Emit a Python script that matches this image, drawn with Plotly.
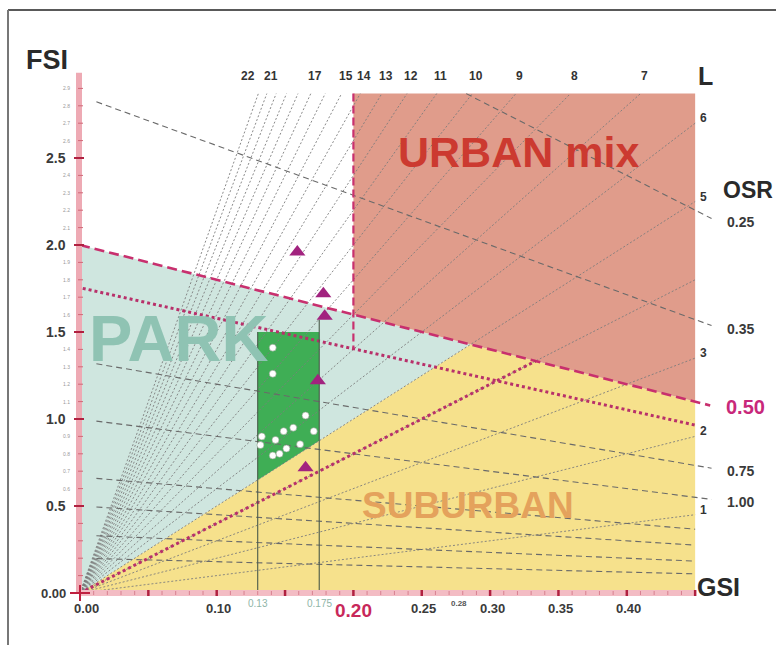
import plotly.graph_objects as go

# ---------------- data ----------------
FSI_TOP = 2.87          # upper edge of the diagram field
GSI_MAX = 0.45          # right edge of the diagram field
GSI_LINE_END = 0.462    # OSR lines run slightly past the field to their labels

L_VALUES = list(range(1, 23))                       # floor-count rays FSI = L * GSI
L_TOP_LABELS = [22, 21, 17, 15, 14, 13, 12, 11, 10, 9, 8, 7]
L_RIGHT_LABELS = [6, 5, 3, 2, 1]

OSR_LABELED = [0.25, 0.35, 0.75, 1.00]              # open space ratio curves
OSR_EXTRA = [1.5, 2.0, 3.0, 5.0]
OSR_LIMIT = 0.50                                    # magenta dashed limit
OSR_DOTTED = 0.57                                   # magenta dotted curve
L_DOTTED = 4                                        # magenta dotted ray
L_PARK = 5                                          # park / suburban boundary ray
URBAN_GSI = 0.20                                    # left edge of urban mix

STUDY_GSI = [0.13, 0.175]                           # study band
STUDY_GSI_LABELS = ["0.13", "0.175"]
STUDY_FSI_TOP = 1.5
STUDY_LINE_TOP = [1.5, 1.57]

GSI_TICKS = [0.00, 0.10, 0.25, 0.30, 0.35, 0.40]
GSI_TICK_LABELS = ["0.00", "0.10", "0.25", "0.30", "0.35", "0.40"]
GSI_RED_TICK = 0.20
GSI_SMALL_TICK = 0.277
FSI_TICKS = [0.5, 1.0, 1.5, 2.0, 2.5]
FSI_TICK_LABELS = ["0.5", "1.0", "1.5", "2.0", "2.5"]
FSI_MINOR = [0.6, 0.7, 0.8, 0.9, 1.1, 1.2, 1.3, 1.4, 1.6, 1.7, 1.8, 1.9,
             2.1, 2.2, 2.3, 2.4, 2.6, 2.7, 2.8, 2.9]

tri_gsi = [0.159, 0.178, 0.179, 0.174, 0.165]
tri_fsi = [1.96, 1.72, 1.59, 1.22, 0.72]

dot_gsi = [0.141, 0.141, 0.165, 0.149, 0.156, 0.171, 0.143, 0.161, 0.151,
           0.141, 0.146, 0.132, 0.133]
dot_fsi = [1.41, 1.26, 1.02, 0.93, 0.95, 0.93, 0.88, 0.855, 0.83,
           0.79, 0.80, 0.85, 0.90]

# ---------------- scale (pixels per unit) ----------------
W, H = 776, 645
X0, Y0 = 80, 593          # pixel position of the origin
SX, SY = 1367.0, 174.0    # pixels per unit GSI / FSI


def px_x(p):
    return p / SX


def px_y(p):
    return p / SY


def osr_fsi(osr, g):
    return (1 - g) / osr


def ray_osr_gsi(L, osr):
    return 1.0 / (1.0 + L * osr)


FONT = "Liberation Sans, Arial, sans-serif"
TEAL = "#cfe6df"
YELLOW = "#f6e18c"
SALMON = "#e09c8b"
GREEN = "#3fae55"
MAGENTA = "#c8306e"
GRAY = "#7d7d7d"

fig = go.Figure()


def poly(xs, ys, color):
    fig.add_trace(go.Scatter(x=xs, y=ys, fill="toself", fillcolor=color,
                             mode="lines", line=dict(width=0),
                             hoverinfo="skip", showlegend=False))


# ---------------- zones ----------------
g_park = ray_osr_gsi(L_PARK, OSR_LIMIT)
f_park = L_PARK * g_park
poly([0, 0, g_park, 0], [0, osr_fsi(OSR_LIMIT, 0), f_park, 0], TEAL)
poly([0, g_park, GSI_MAX, GSI_MAX, 0],
     [0, f_park, osr_fsi(OSR_LIMIT, GSI_MAX), 0, 0], YELLOW)
poly([URBAN_GSI, URBAN_GSI, GSI_MAX, GSI_MAX, URBAN_GSI],
     [osr_fsi(OSR_LIMIT, URBAN_GSI), FSI_TOP, FSI_TOP,
      osr_fsi(OSR_LIMIT, GSI_MAX), osr_fsi(OSR_LIMIT, URBAN_GSI)], SALMON)
ga, gb = STUDY_GSI
poly([ga, ga, gb, gb, ga],
     [L_PARK * ga, STUDY_FSI_TOP, STUDY_FSI_TOP, L_PARK * gb, L_PARK * ga], GREEN)

# ---------------- L rays ----------------
lx, ly = [], []
for L in L_VALUES:
    if L * GSI_MAX <= FSI_TOP:
        lx += [0, GSI_MAX, None]
        ly += [0, L * GSI_MAX, None]
    else:
        lx += [0, FSI_TOP / L, None]
        ly += [0, FSI_TOP, None]
fig.add_trace(go.Scatter(x=lx, y=ly, mode="lines",
                         line=dict(color=GRAY, width=0.9, dash="2px,2px"),
                         hoverinfo="skip", showlegend=False))

# ---------------- OSR curves ----------------
ox, oy = [], []
for osr in OSR_LABELED + OSR_EXTRA:
    g_start = 0.012
    f_start = osr_fsi(osr, g_start)
    if f_start > FSI_TOP:
        g_start = 1 - FSI_TOP * osr
        f_start = FSI_TOP
    g_end = GSI_LINE_END if osr in OSR_LABELED else GSI_MAX
    ox += [g_start, g_end, None]
    oy += [f_start, osr_fsi(osr, g_end), None]
fig.add_trace(go.Scatter(x=ox, y=oy, mode="lines",
                         line=dict(color="#6a6a6a", width=1.1, dash="6px,4px"),
                         hoverinfo="skip", showlegend=False))

# ---------------- magenta guides ----------------
fig.add_trace(go.Scatter(x=[0, 0.461], y=[osr_fsi(OSR_LIMIT, 0), osr_fsi(OSR_LIMIT, 0.461)],
                         mode="lines", line=dict(color=MAGENTA, width=2.6, dash="10px,5px"),
                         hoverinfo="skip", showlegend=False))
fig.add_trace(go.Scatter(x=[0.002, GSI_MAX],
                         y=[osr_fsi(OSR_DOTTED, 0.002), osr_fsi(OSR_DOTTED, GSI_MAX)],
                         mode="lines", line=dict(color="#b8306a", width=3, dash="dot"),
                         hoverinfo="skip", showlegend=False))
g4 = ray_osr_gsi(L_DOTTED, OSR_LIMIT)
fig.add_trace(go.Scatter(x=[0, g4], y=[0, L_DOTTED * g4], mode="lines",
                         line=dict(color="#b8306a", width=3, dash="dot"),
                         hoverinfo="skip", showlegend=False))
fig.add_trace(go.Scatter(x=[URBAN_GSI, URBAN_GSI],
                         y=[FSI_TOP, osr_fsi(OSR_DOTTED, URBAN_GSI)], mode="lines",
                         line=dict(color=MAGENTA, width=2.2, dash="8px,4px"),
                         hoverinfo="skip", showlegend=False))

# ---------------- study band verticals ----------------
for g, top in zip(STUDY_GSI, STUDY_LINE_TOP):
    fig.add_trace(go.Scatter(x=[g, g], y=[0, top], mode="lines",
                             line=dict(color="#4a5a4a", width=1.1),
                             hoverinfo="skip", showlegend=False))

# ---------------- points ----------------
fig.add_trace(go.Scatter(x=dot_gsi, y=dot_fsi, mode="markers",
                         marker=dict(symbol="circle", size=7, color="white",
                                     line=dict(color="#8aa08a", width=0.6)),
                         hoverinfo="skip", showlegend=False))
fig.add_trace(go.Scatter(x=tri_gsi, y=tri_fsi, mode="markers",
                         marker=dict(symbol="triangle-up", size=14, color="#a2237f",
                                     line=dict(width=0)),
                         hoverinfo="skip", showlegend=False))

# ---------------- axis bars ----------------
shapes = []
shapes.append(dict(type="rect", xref="x", yref="y", x0=px_x(-4), x1=px_x(2),
                   y0=0, y1=2.99, fillcolor="#eeaab4", line=dict(width=0), layer="above"))
shapes.append(dict(type="rect", xref="x", yref="y", x0=0, x1=GSI_MAX,
                   y0=px_y(-3), y1=px_y(3), fillcolor="#f3bcc4", line=dict(width=0),
                   layer="above"))
for i in range(1, 30):
    f = i / 10
    major = i % 5 == 0
    shapes.append(dict(type="line", xref="x", yref="y",
                       x0=px_x(-6 if major else -2), x1=px_x(4 if major else 3),
                       y0=f, y1=f, layer="above",
                       line=dict(color="#b02040" if major else "#d06878",
                                 width=2 if major else 1)))
for i in range(1, 46):
    g = i / 100
    major = i % 5 == 0
    shapes.append(dict(type="line", xref="x", yref="y", x0=g, x1=g,
                       y0=px_y(-3 if major else -2), y1=px_y(3 if major else 2),
                       layer="above",
                       line=dict(color="#b02040" if major else "#d88090",
                                 width=2.5 if major else 1)))
shapes.append(dict(type="line", xref="x", yref="y", x0=px_x(-10), x1=px_x(10),
                   y0=0, y1=0, line=dict(color="#c02040", width=2), layer="above"))
shapes.append(dict(type="line", xref="x", yref="y", x0=0, x1=0,
                   y0=px_y(-8), y1=px_y(8), line=dict(color="#c02040", width=2), layer="above"))
# frame
shapes.append(dict(type="line", xref="paper", yref="paper", x0=8 / W, x1=1,
                   y0=1 - 10 / H, y1=1 - 10 / H, line=dict(color="#222", width=1.6)))
shapes.append(dict(type="line", xref="paper", yref="paper", x0=8 / W, x1=8 / W,
                   y0=0, y1=1 - 10 / H, line=dict(color="#777", width=2)))

# ---------------- text ----------------
ann = []


def text(x, y, s, size, color="#333", bold=True, xshift=0, yshift=0, xanchor="center"):
    ann.append(dict(x=x, y=y, xref="x", yref="y", text=f"<b>{s}</b>" if bold else s,
                    showarrow=False, xshift=xshift, yshift=yshift, xanchor=xanchor,
                    yanchor="middle", font=dict(family=FONT, size=size, color=color)))


# zone titles
text(px_x(518 - X0), (Y0 - 152) / SY, "URBAN mix", 43, "#cc3a30")
text(px_x(178 - X0), (Y0 - 338) / SY, "PARK", 65, "#8fc3b3")
text(px_x(468 - X0), (Y0 - 505) / SY, "SUBURBAN", 37, "#e4a25c")

# axis titles
text(px_x(47 - X0), (Y0 - 60) / SY, "FSI", 27, "#2a2a2a")
text(px_x(718 - X0), (Y0 - 587) / SY, "GSI", 25, "#2a2a2a")
text(px_x(705 - X0), (Y0 - 76) / SY, "L", 25, "#2a2a2a")
text(px_x(748 - X0), (Y0 - 190) / SY, "OSR", 23, "#2a2a2a")

# L labels
nudge = {22: -10}
for L in L_TOP_LABELS:
    text(FSI_TOP / L, FSI_TOP, str(L), 12, "#333", xshift=nudge.get(L, 4), yshift=18)
for L in L_RIGHT_LABELS:
    text(GSI_MAX, L * GSI_MAX, str(L), 12, "#333", xshift=8, yshift=5)

# OSR labels
for osr in OSR_LABELED:
    text(GSI_LINE_END, osr_fsi(osr, GSI_LINE_END), f"{osr:.2f}", 14, "#3a3a3a",
         xshift=13, yshift=-3, xanchor="left")
text(GSI_LINE_END, osr_fsi(OSR_LIMIT, GSI_LINE_END), f"{OSR_LIMIT:.2f}", 20, "#c8287a",
     xshift=12, yshift=-1, xanchor="left")

# FSI ticks
text(0, 0, "0.00", 13, "#3a3a3a", xshift=-12, xanchor="right")
for v, s in zip(FSI_TICKS, FSI_TICK_LABELS):
    text(0, v, s, 14, "#3a3a3a", xshift=-12, xanchor="right")
for v in FSI_MINOR:
    text(0, v, f"{v:.1f}", 5, "#9a9a9a", bold=False, xshift=-8, xanchor="right")

# GSI ticks
for v, s in zip(GSI_TICKS, GSI_TICK_LABELS):
    text(v, 0, s, 13, "#3a3a3a", xshift=6 if v == 0 else 2, yshift=-15)
text(GSI_RED_TICK, 0, f"{GSI_RED_TICK:.2f}", 19, "#c8285a", yshift=-17)
text(GSI_SMALL_TICK, 0, "0.28", 8, "#555", yshift=-10)
for v, s in zip(STUDY_GSI, STUDY_GSI_LABELS):
    text(v, 0, s, 10, "#8fb5a8", bold=False, yshift=-10)

fig.update_layout(
    width=W, height=H, autosize=False,
    margin=dict(l=0, r=0, t=0, b=0),
    paper_bgcolor="white", plot_bgcolor="white",
    xaxis=dict(range=[-X0 / SX, (W - X0) / SX], visible=False, fixedrange=True),
    yaxis=dict(range=[-(H - Y0) / SY, Y0 / SY], visible=False, fixedrange=True),
    shapes=shapes, annotations=ann, showlegend=False,
)

fig.write_html("out.html")
